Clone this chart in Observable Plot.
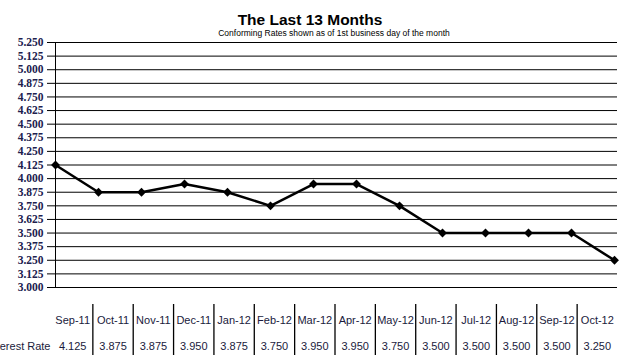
<!DOCTYPE html>
<html>
<head>
<meta charset="utf-8">
<script src="https://cdn.jsdelivr.net/npm/d3@7"></script>
<script src="https://cdn.jsdelivr.net/npm/@observablehq/plot@0.6"></script>
<style>
  body { margin: 0; background: white; }
  #wrap { position: relative; width: 630px; height: 362px; overflow: hidden; background: white; }
  #title { position: absolute; left: 0; width: 620px; top: 12px; text-align: center; font: bold 15.5px "Liberation Sans", Arial, sans-serif; line-height: 1; color: #000; }
  #subtitle { position: absolute; left: 0; width: 668px; top: 29px; text-align: center; font: 8.5px "Liberation Sans", Arial, sans-serif; line-height: 1; color: #000; }
  #chart { position: absolute; left: 0; top: 0; }
  #table { position: absolute; left: 0; top: 295px; }
</style>
</head>
<body>
<div id="wrap">
  <div id="chart"></div>
  <div id="table"></div>
  <div id="title">The Last 13 Months</div>
  <div id="subtitle">Conforming Rates shown as of 1st business day of the month</div>
</div>
<script>
const months = ["Sep-11","Oct-11","Nov-11","Dec-11","Jan-12","Feb-12","Mar-12","Apr-12","May-12","Jun-12","Jul-12","Aug-12","Sep-12","Oct-12"];
const rates = [4.125, 3.875, 3.875, 3.950, 3.875, 3.750, 3.950, 3.950, 3.750, 3.500, 3.500, 3.500, 3.500, 3.250];
const yTicks = [3.000, 3.125, 3.250, 3.375, 3.500, 3.625, 3.750, 3.875, 4.000, 4.125, 4.250, 4.375, 4.500, 4.625, 4.750, 4.875, 5.000, 5.125, 5.250];
const rowLabel = "Interest Rate";

const data = months.map((m, i) => ({month: m, rate: rates[i], idx: i}));

const chart = Plot.plot({
  width: 630,
  height: 300,
  marginTop: 42,
  marginBottom: 13,
  marginLeft: 52,
  marginRight: 13,
  style: {background: "transparent", overflow: "visible"},
  x: {type: "point", domain: months, padding: 0, axis: null},
  y: {domain: [3, 5.25], axis: null, label: null},
  marks: [
    Plot.ruleY(yTicks, {stroke: "black", strokeWidth: 1}),
    Plot.ruleX([months[0]], {stroke: "black", strokeWidth: 1}),
    Plot.axisY({ticks: yTicks, tickSize: 5, tickPadding: 4, tickFormat: d3.format(".3f"), label: null,
      fontFamily: "'Liberation Serif', 'Times New Roman', serif", fontWeight: "bold", fontSize: 11.5,
      fill: "#20204e", stroke: "black", strokeOpacity: 1}),
    Plot.line(data, {x: "month", y: "rate", stroke: "black", strokeWidth: 2.5}),
    Plot.dot(data, {x: "month", y: "rate", symbol: "diamond2", r: 4, fill: "black", stroke: "none"})
  ]
});
document.getElementById("chart").append(chart);

const cells = [];
months.forEach((m, i) => {
  cells.push({x: i + 0.5, row: "m", text: m});
  cells.push({x: i + 0.5, row: "v", text: d3.format(".3f")(rates[i])});
});
const dividers = months.slice(1).map((m, i) => i + 1);

const table = Plot.plot({
  width: 630,
  height: 67,
  marginTop: 9,
  marginBottom: 7,
  marginLeft: 52,
  marginRight: 13,
  style: {background: "transparent", overflow: "visible"},
  x: {type: "linear", domain: [0, months.length], axis: null},
  y: {type: "point", domain: ["m", "v"], range: [25, 51], padding: 0, axis: null},
  marks: [
    Plot.ruleX(dividers, {stroke: "black", strokeWidth: 1.3}),
    Plot.text(cells, {x: "x", y: "row", text: "text", fontFamily: "'Liberation Sans', Arial, sans-serif", fontSize: 11, fill: "#1a1a3c"}),
    Plot.text([rowLabel], {x: [0], y: ["v"], text: d => d, textAnchor: "end", dx: -2, fontFamily: "'Liberation Sans', Arial, sans-serif", fontSize: 11, fill: "#1a1a3c"})
  ]
});
document.getElementById("table").append(table);
</script>
</body>
</html>
